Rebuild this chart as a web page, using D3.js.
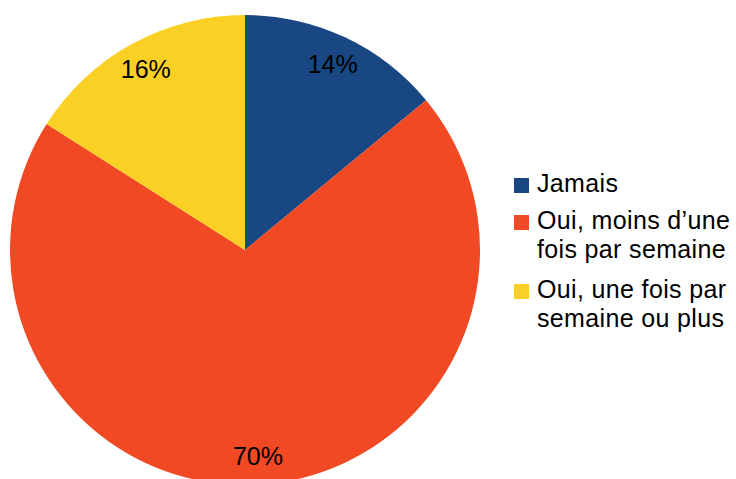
<!DOCTYPE html>
<html lang="fr">
<head>
<meta charset="utf-8" />
<title>Pie</title>
<script src="https://cdn.jsdelivr.net/npm/d3@7"></script>
<style>
  body { margin: 0; background: #fff; }
  text { font-family: "Liberation Sans", Arial, sans-serif; }
</style>
</head>
<body>
<script>
  // data
  const categories = ["Jamais", "Oui, moins d\u2019une fois par semaine", "Oui, une fois par semaine ou plus"];
  const legendLines = [["Jamais"], ["Oui, moins d\u2019une", "fois par semaine"], ["Oui, une fois par", "semaine ou plus"]];
  const values = [14, 70, 16];
  const colors = ["#194783", "#f04924", "#fbd024"];

  const width = 736, height = 479;
  const cx = 245, cy = 250, radius = 235;

  const svg = d3.select("body").append("svg")
      .attr("width", width)
      .attr("height", height);

  const pie = d3.pie().sort(null).value(d => d)(values);
  const arc = d3.arc().innerRadius(0).outerRadius(radius);
  const labelArc = d3.arc().innerRadius(206).outerRadius(206);

  const g = svg.append("g").attr("transform", `translate(${cx},${cy})`);

  g.selectAll("path")
    .data(pie)
    .join("path")
    .attr("d", arc)
    .attr("fill", (d, i) => colors[i]);

  g.selectAll("text")
    .data(pie)
    .join("text")
    .attr("transform", d => `translate(${labelArc.centroid(d)})`)
    .attr("text-anchor", "middle")
    .attr("dominant-baseline", "central")
    .attr("font-size", 25)
    .attr("fill", "#000")
    .text(d => d.value + "%");

  // legend
  const legendTops = [192, 229, 298];
  const lineH = 29;
  const legend = svg.append("g");
  categories.forEach((c, i) => {
    const y = legendTops[i];
    legend.append("rect")
      .attr("x", 514).attr("y", y - 14)
      .attr("width", 15).attr("height", 15)
      .attr("fill", colors[i]);
    legendLines[i].forEach((line, j) => {
      legend.append("text")
        .attr("x", 537).attr("y", y + j * lineH)
        .attr("font-size", 25)
        .attr("letter-spacing", 0.35)
        .attr("fill", "#000")
        .text(line);
    });
  });
</script>
</body>
</html>
